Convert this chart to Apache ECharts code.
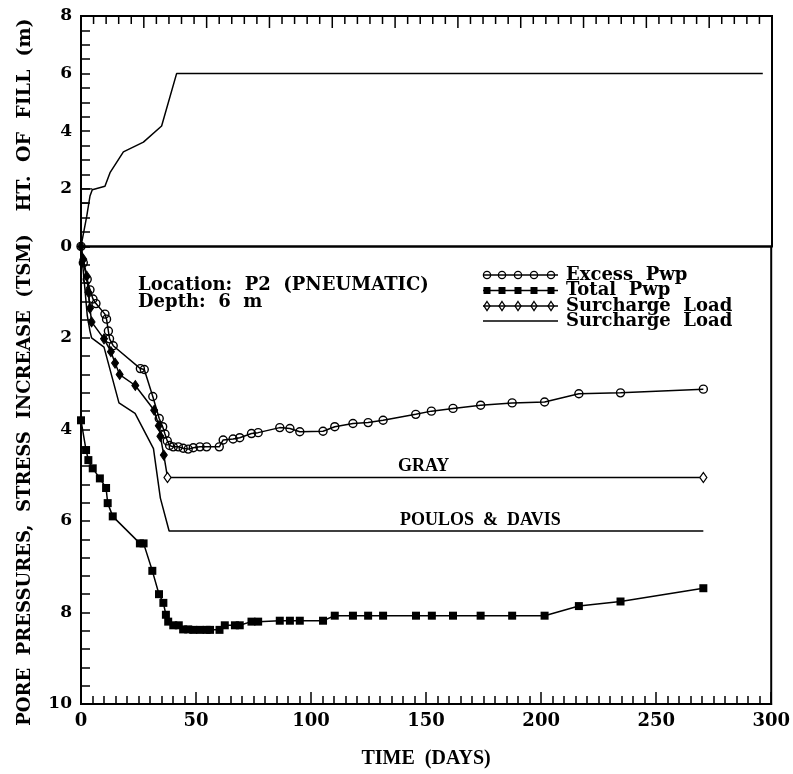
<!DOCTYPE html>
<html>
<head>
<meta charset="utf-8">
<script src="https://cdn.jsdelivr.net/npm/echarts@6/dist/echarts.min.js"></script>
<style>html,body{margin:0;padding:0;background:#fff}#c{width:793px;height:774px}</style>
</head>
<body>
<div id="c"></div>
<script>
// ---- data ----
const fillDays   = [0, 2.5, 3.9, 4.9, 10.4, 12.6, 18.4, 27.1, 35, 41.5, 296];
const fillHeight = [0, 1.05, 1.75, 1.97, 2.09, 2.56, 3.28, 3.62, 4.18, 6.0, 6.0];
const stepDaysA = [0, 4.9], stepHeightA = [2, 2];
const stepDaysB = [0, 3.2], stepHeightB = [1.5, 1.5];

const excessDays = [0, 1, 2.7, 3.9, 5.2, 6.5, 10.4, 11.1, 11.9, 12.4, 14, 25.8, 27.5, 31.2, 34, 35.5, 36.5, 37.5, 38.5, 40.1, 42.3, 44.4, 46.6, 48.8, 51.7, 54.6, 60.1, 61.8, 66.1, 69, 74.1, 77, 86.4, 90.8, 95.1, 105.2, 110.3, 118.2, 124.8, 131.3, 145.5, 152.3, 161.7, 173.7, 187.4, 201.5, 216.4, 234.5, 270.5];
const excessPwp  = [0, 0.36, 0.72, 0.95, 1.15, 1.25, 1.48, 1.59, 1.85, 2.02, 2.17, 2.67, 2.69, 3.28, 3.76, 3.94, 4.1, 4.25, 4.35, 4.38, 4.38, 4.41, 4.43, 4.40, 4.38, 4.38, 4.38, 4.23, 4.21, 4.18, 4.09, 4.07, 3.96, 3.98, 4.05, 4.04, 3.94, 3.87, 3.85, 3.80, 3.67, 3.60, 3.54, 3.47, 3.42, 3.40, 3.22, 3.20, 3.12];

const totalDays = [0, 2.2, 3.2, 5.1, 8.2, 10.9, 11.6, 13.8, 25.6, 27.2, 31, 33.9, 35.8, 36.9, 37.9, 40.1, 42.5, 44.4, 46.6, 48.8, 51.7, 54.6, 56.1, 60.2, 62.5, 66.9, 69, 74.1, 77, 86.4, 90.8, 95.1, 105.2, 110.3, 118.2, 124.8, 131.3, 145.6, 152.5, 161.7, 173.7, 187.4, 201.5, 216.4, 234.5, 270.5];
const totalPwp  = [3.80, 4.45, 4.67, 4.85, 5.07, 5.28, 5.61, 5.90, 6.49, 6.49, 7.09, 7.60, 7.79, 8.05, 8.20, 8.28, 8.28, 8.37, 8.37, 8.38, 8.38, 8.38, 8.38, 8.38, 8.28, 8.28, 8.28, 8.20, 8.20, 8.18, 8.18, 8.18, 8.18, 8.07, 8.07, 8.07, 8.07, 8.07, 8.07, 8.07, 8.07, 8.07, 8.07, 7.86, 7.76, 7.47];

const grayDays = [0, 1, 2.5, 3.2, 3.9, 4.6, 10, 13, 14.8, 16.8, 23.6, 31.8, 33.8, 34.5, 36, 37.6, 270.5];
const grayLoad = [0, 0.28, 0.65, 1.0, 1.35, 1.65, 2.02, 2.3, 2.55, 2.8, 3.04, 3.58, 3.92, 4.15, 4.56, 5.05, 5.05];

const poulosDays = [0, 1.7, 2.7, 3.9, 4.6, 10, 16.5, 23.5, 31.5, 34.5, 38.3, 270.5];
const poulosLoad = [0, 0.93, 1.5, 1.85, 2.0, 2.2, 3.42, 3.65, 4.42, 5.5, 6.22, 6.22];

const legendNames = ['Excess  Pwp', 'Total  Pwp', 'Surcharge  Load', 'Surcharge  Load'];
const yTitleLower = 'PORE  PRESSURES,  STRESS  INCREASE  (TSM)';
const yTitleUpper = 'HT.  OF  FILL  (m)';
const xTitle = 'TIME  (DAYS)';
const noteLines = ['Location:  P2  (PNEUMATIC)', 'Depth:  6  m'];
const grayLabel = 'GRAY';
const poulosLabel = 'POULOS  &  DAVIS';
// the upper panel's own frame shows a tick ruler with 11 major divisions (5 minor each)
const upperTickDivisions = 11;
const upperMinorPerMajor = 5;

// ---- helpers ----
const zip = (xs, ys) => xs.map((x, i) => [x, ys[i]]);
const SERIF = '"DejaVu Serif"';
const TIMES = '"Liberation Serif"';
const lbl = (extra) => Object.assign({fontFamily: 'DejaVu Serif', fontWeight: 'bold', fontSize: 17, color: '#000'}, extra);
const axLine = () => ({show: true, onZero: false, lineStyle: {color: '#000', width: 2}});
const tick = (len) => ({show: true, inside: true, length: len, lineStyle: {color: '#000', width: 1.5}});
const minor = (n, len) => ({show: true, splitNumber: n, length: len, lineStyle: {color: '#000', width: 1.5}});

const chart = echarts.init(document.getElementById('c'), null, {renderer: 'canvas'});

const L = 81, R = 772, T = 16, MID = 246.4, B = 707;
const upperPxPerUnit = (MID - T) / 8;

// ruler drawn as a broken line series in the upper panel's own (time, height) units
const rulerData = [];
const nTicks = upperTickDivisions * upperMinorPerMajor;
for (let k = 0; k <= nTicks; k++) {
  const t = k * 300 / nTicks;
  const lenPx = k % upperMinorPerMajor === 0 ? 12 : 8;
  rulerData.push([t, 8], [t, 8 - lenPx / upperPxPerUnit], ['-', '-']);
}

// legend + text drawn as graphic
const graphics = [
  {type: 'text', x: 25, y: 115, rotation: Math.PI / 2,
   style: {text: yTitleUpper, font: 'bold 19px ' + SERIF, fill: '#000', align: 'center', verticalAlign: 'middle'}},
  {type: 'text', x: 25, y: 480, rotation: Math.PI / 2,
   style: {text: yTitleLower, font: 'bold 18px ' + SERIF, fill: '#000', align: 'center', verticalAlign: 'middle'}},
  {type: 'text', x: 138, y: 285, style: {text: noteLines[0], font: 'bold 18px ' + SERIF, fill: '#000', verticalAlign: 'middle'}},
  {type: 'text', x: 138, y: 302, style: {text: noteLines[1], font: 'bold 18px ' + SERIF, fill: '#000', verticalAlign: 'middle'}},
  {type: 'text', x: 398, y: 466, style: {text: grayLabel, font: 'bold 18px ' + TIMES, fill: '#000', verticalAlign: 'middle'}},
  {type: 'text', x: 400, y: 520, style: {text: poulosLabel, font: 'bold 18px ' + TIMES, fill: '#000', verticalAlign: 'middle'}}
];
const rowY = [275, 290.5, 306, 321];
const lx0 = 483, lx1 = 558, sx = [487, 502, 518, 534, 551];
rowY.forEach((y, r) => {
  graphics.push({type: 'line', shape: {x1: lx0, y1: y, x2: lx1, y2: y}, style: {stroke: '#000', lineWidth: 1.5}});
  if (r < 3) sx.forEach(x => {
    if (r === 0) graphics.push({type: 'circle', shape: {cx: x, cy: y, r: 3.6}, style: {fill: 'none', stroke: '#000', lineWidth: 1.3}});
    if (r === 1) graphics.push({type: 'rect', shape: {x: x - 3.5, y: y - 3.5, width: 7, height: 7}, style: {fill: '#000'}});
    if (r === 2) graphics.push({type: 'polygon', shape: {points: [[x, y - 4.5], [x + 3, y], [x, y + 4.5], [x - 3, y]]}, style: {fill: 'none', stroke: '#000', lineWidth: 1.3}});
  });
  graphics.push({type: 'text', x: 566, y: y, style: {text: legendNames[r], font: 'bold 18px ' + SERIF, fill: '#000', verticalAlign: 'middle', align: 'left'}});
});

const option = {
  animation: false,
  backgroundColor: '#fff',
  grid: [
    {left: L, top: T, width: R - L, height: MID - T, show: true, borderColor: '#000', borderWidth: 2, backgroundColor: 'transparent'},
    {left: L, top: MID, width: R - L, height: B - MID, show: true, borderColor: '#000', borderWidth: 2, backgroundColor: 'transparent'}
  ],
  xAxis: [
    {gridIndex: 0, type: 'value', position: 'top', min: 0, max: 300, show: false},
    {gridIndex: 1, type: 'value', position: 'bottom', min: 0, max: 300, interval: 50,
     axisLine: axLine(), splitLine: {show: false},
     axisLabel: lbl({margin: 8, fontSize: 18}),
     axisTick: tick(12), minorTick: minor(10, 8),
     name: xTitle, nameLocation: 'middle', nameGap: 45,
     nameTextStyle: {fontFamily: 'Liberation Serif', fontWeight: 'bold', fontSize: 20, color: '#000'}}
  ],
  yAxis: [
    {gridIndex: 0, type: 'value', position: 'left', min: 0, max: 8, interval: 2,
     axisLine: axLine(), splitLine: {show: false},
     axisLabel: lbl({margin: 9}),
     axisTick: tick(9), minorTick: minor(4, 9)},
    {gridIndex: 1, type: 'value', position: 'left', min: 0, max: 10, interval: 2, inverse: true,
     axisLine: axLine(), splitLine: {show: false},
     axisLabel: lbl({margin: 9, formatter: v => v === 0 ? '' : v}),
     axisTick: tick(9), minorTick: minor(5, 9)}
  ],
  series: [
    {name: 'ruler', type: 'line', xAxisIndex: 0, yAxisIndex: 0, data: rulerData, connectNulls: false,
     symbol: 'none', silent: true, clip: false, z: 10, lineStyle: {color: '#000', width: 1.5}},
    {name: 'fill', type: 'line', xAxisIndex: 0, yAxisIndex: 0, data: zip(fillDays, fillHeight),
     symbol: 'none', lineStyle: {color: '#000', width: 1.5}},
    {name: 'stepA', type: 'line', xAxisIndex: 0, yAxisIndex: 0, data: zip(stepDaysA, stepHeightA),
     symbol: 'none', lineStyle: {color: '#000', width: 1.2}},
    {name: 'stepB', type: 'line', xAxisIndex: 0, yAxisIndex: 0, data: zip(stepDaysB, stepHeightB),
     symbol: 'none', lineStyle: {color: '#000', width: 1.2}},
    {name: 'Poulos & Davis', type: 'line', xAxisIndex: 1, yAxisIndex: 1, data: zip(poulosDays, poulosLoad),
     symbol: 'none', lineStyle: {color: '#000', width: 1.5}},
    {name: 'Gray', type: 'line', xAxisIndex: 1, yAxisIndex: 1,
     data: zip(grayDays, grayLoad).map((p, i) => ({value: p,
       itemStyle: i >= grayDays.length - 2
         ? {color: '#fff', borderColor: '#000', borderWidth: 1.3}
         : {color: '#000', borderColor: '#000', borderWidth: 1}})),
     symbol: 'diamond', symbolSize: [7, 10], lineStyle: {color: '#000', width: 1.5}},
    {name: 'Total Pwp', type: 'line', xAxisIndex: 1, yAxisIndex: 1, data: zip(totalDays, totalPwp),
     symbol: 'rect', symbolSize: 8, itemStyle: {color: '#000'}, lineStyle: {color: '#000', width: 1.5}},
    {name: 'Excess Pwp', type: 'line', xAxisIndex: 1, yAxisIndex: 1, data: zip(excessDays, excessPwp),
     symbol: 'circle', symbolSize: 8, itemStyle: {color: 'rgba(255,255,255,0)', borderColor: '#000', borderWidth: 1.4},
     lineStyle: {color: '#000', width: 1.5}}
  ],
  graphic: graphics
};
chart.setOption(option);
</script>
</body>
</html>
